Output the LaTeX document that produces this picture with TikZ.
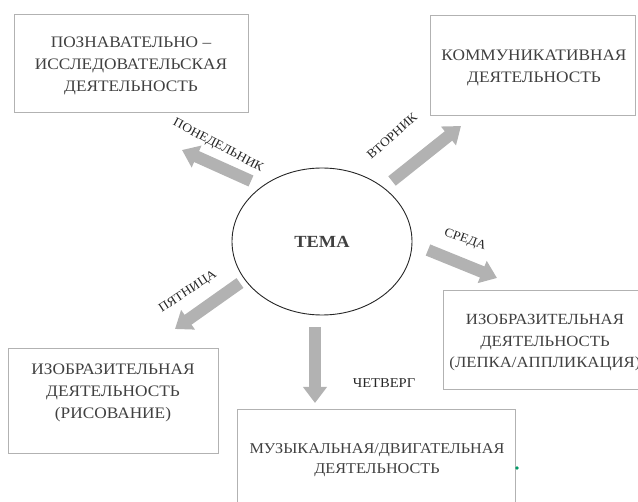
\documentclass[tikz,border=0pt]{standalone}
\usepackage{fontspec}
\setmainfont[FakeStretch=1.08]{Liberation Serif}
\usetikzlibrary{shapes.geometric,arrows.meta}
\tikzset{
  box/.style={draw=gray!60, line width=0.8pt, inner sep=0pt},
  boxtext/.style={align=center, text=black!75, font=\fontsize{16}{22}\selectfont, inner sep=0pt},
  fatarrow/.style={draw=gray!60, line width=12pt, -{Triangle[width=23pt,length=16pt]}},
  day/.style={text=black!85, font=\fontsize{12.5}{14}\selectfont, inner sep=0pt},
}
\begin{document}
\begin{tikzpicture}[x=1pt,y=-1pt]
\useasboundingbox (0,0) rectangle (638,502);
% boxes
\node[box, minimum width=234pt, minimum height=98pt] (b1) at (131,63) {};
\node[boxtext] (t1) at (131,66) {ПОЗНАВАТЕЛЬНО –\\ИССЛЕДОВАТЕЛЬСКАЯ\\ДЕЯТЕЛЬНОСТЬ};
\node[box, minimum width=205pt, minimum height=100pt] (b2) at (532.5,65) {};
\node[boxtext] (t2) at (534,68) {КОММУНИКАТИВНАЯ\\ДЕЯТЕЛЬНОСТЬ};
\node[box, minimum width=206pt, minimum height=99pt] (b3) at (546,339.5) {};
\node[boxtext, font=\fontsize{15.5}{21.5}\selectfont] (t3) at (545,343) {ИЗОБРАЗИТЕЛЬНАЯ\\ДЕЯТЕЛЬНОСТЬ\\(ЛЕПКА/АППЛИКАЦИЯ)};
\node[box, minimum width=210pt, minimum height=105pt] (b4) at (113,400.5) {};
\node[boxtext] (t4) at (113,393) {ИЗОБРАЗИТЕЛЬНАЯ\\ДЕЯТЕЛЬНОСТЬ\\(РИСОВАНИЕ)};
\node[box, minimum width=278pt, minimum height=104pt] (b5) at (376,461) {};
\node[boxtext, font=\fontsize{15}{20.5}\selectfont] (t5) at (377,460) {МУЗЫКАЛЬНАЯ/ДВИГАТЕЛЬНАЯ\\ДЕЯТЕЛЬНОСТЬ};
% centre
\node[draw=black!85, line width=0.9pt, ellipse, minimum width=180pt, minimum height=147pt, inner sep=0pt] (tema) at (322,241.5) {};
\node[text=black!75, font=\fontsize{17}{20}\selectfont\bfseries, inner sep=0pt] (tt) at (tema.center) {ТЕМА};
% arrow ends
\coordinate (m0) at (251,181); \coordinate (m1) at (182,150);
\coordinate (w0) at (392,181); \coordinate (w1) at (461,126);
\coordinate (s0) at (428,250); \coordinate (s1) at (497,278);
\coordinate (h0) at (315,327); \coordinate (h1) at (315,403);
\coordinate (f0) at (240,283); \coordinate (f1) at (175,329);
\draw[fatarrow] (m0) -- (m1);
\draw[fatarrow] (w0) -- (w1);
\draw[fatarrow] (s0) -- (s1);
\draw[fatarrow] (h0) -- (h1);
\draw[fatarrow] (f0) -- (f1);
% day labels
\node[day, rotate=-28] (d1) at (218,146) {ПОНЕДЕЛЬНИК};
\node[day, rotate=42] (d2) at (392,136) {ВТОРНИК};
\node[day, rotate=-20] (d3) at (465,240) {СРЕДА};
\node[day, font=\fontsize{13.5}{15}\selectfont] (d4) at (384,383) {ЧЕТВЕРГ};
\node[day, rotate=33] (d5) at (188,292) {ПЯТНИЦА};
% stray dot
\fill[teal!80!green] (517,468) circle (1.8);
\end{tikzpicture}
\end{document}
